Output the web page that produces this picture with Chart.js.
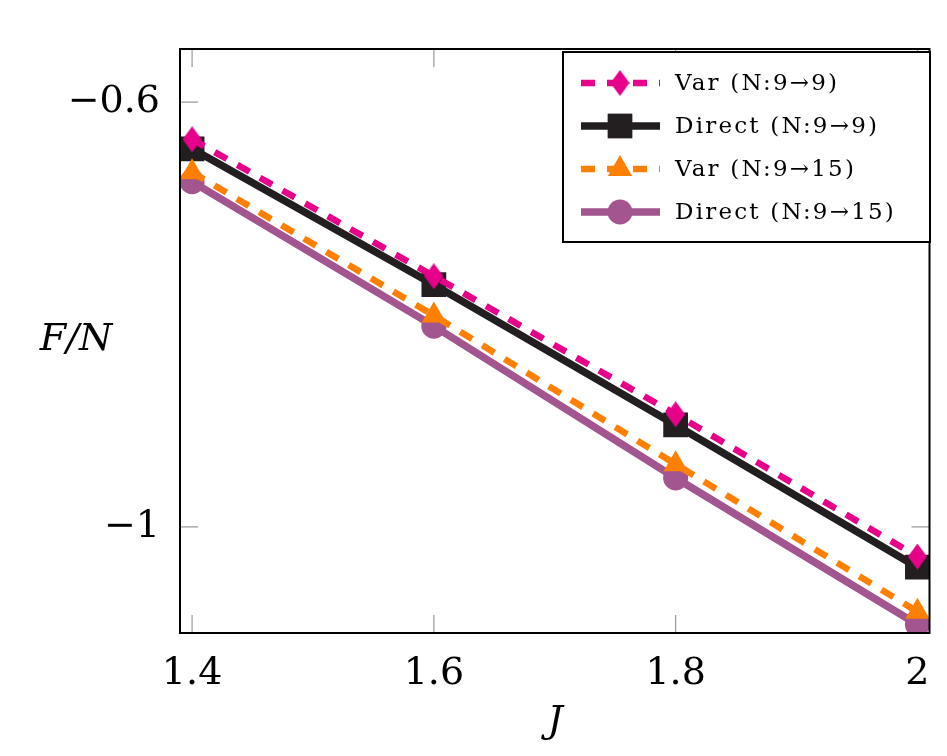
<!DOCTYPE html>
<html>
<head>
<meta charset="utf-8">
<script src="https://cdn.jsdelivr.net/npm/chart.js@4/dist/chart.umd.min.js"></script>
<style>
  html, body { margin: 0; padding: 0; background: #fff; }
  #wrap { width: 947px; height: 756px; position: relative; }
</style>
</head>
<body>
<div id="wrap"><canvas id="chart"></canvas></div>
<script>
// values
const jValues = [1.4, 1.6, 1.8, 2.0];
const varN9 = [-0.635, -0.764, -0.894, -1.028];
const directN9 = [-0.644, -0.772, -0.904, -1.038];
const varN15 = [-0.666, -0.801, -0.941, -1.080];
const directN15 = [-0.675, -0.811, -0.954, -1.092];
const seriesLabels = ['Var (N:9\u21929)', 'Direct (N:9\u21929)', 'Var (N:9\u219215)', 'Direct (N:9\u219215)'];
const xTicks = [1.4, 1.6, 1.8, 2];
const xTickLabels = ['1.4', '1.6', '1.8', '2'];
const yTicks = [-1, -0.6];
const yTickLabels = ['\u22121', '\u22120.6'];

const PINK = '#e6008a';
const BLACK = '#231f20';
const ORANGE = '#ff8000';
const PURPLE = '#a2558e';
const SERIF = "'DejaVu Serif', serif";

// pgfplots-like diamond (narrower than tall)
function makeDiamond(color) {
  const c = document.createElement('canvas');
  c.width = 19; c.height = 26;
  const g = c.getContext('2d');
  g.fillStyle = color;
  g.beginPath();
  g.moveTo(9.5, 0);
  g.lineTo(19, 13);
  g.lineTo(9.5, 26);
  g.lineTo(0, 13);
  g.closePath();
  g.fill();
  return c;
}

function pts(ys) {
  return jValues.map((x, i) => ({ x, y: ys[i] }));
}

function series(label, ys, color, style, radius, dashed, order) {
  return {
    label,
    data: pts(ys),
    borderColor: color,
    backgroundColor: color,
    borderWidth: dashed ? 6.5 : 7.5,
    borderDash: dashed ? [14, 12] : [],
    pointStyle: style,
    pointRadius: radius,
    pointBackgroundColor: color,
    pointBorderColor: color,
    pointBorderWidth: 0,
    tension: 0,
    clip: 0,
    order
  };
}

const datasets = [
  series(seriesLabels[0], varN9, PINK, makeDiamond(PINK), 13, true, 0),
  series(seriesLabels[1], directN9, BLACK, 'rect', 17.5, false, 2),
  series(seriesLabels[2], varN15, ORANGE, 'triangle', 14, true, 1),
  series(seriesLabels[3], directN15, PURPLE, 'circle', 12.5, false, 3)
];

// frame, inner ticks, axis titles and legend box
const decorations = {
  id: 'decorations',
  beforeDatasetsDraw(chart) {
    const { ctx, chartArea: a, scales } = chart;
    ctx.save();
    ctx.strokeStyle = '#999';
    ctx.lineWidth = 1.2;
    ctx.beginPath();
    xTicks.forEach(v => {
      const px = scales.x.getPixelForValue(v);
      ctx.moveTo(px, a.bottom); ctx.lineTo(px, a.bottom - 18);
      ctx.moveTo(px, a.top); ctx.lineTo(px, a.top + 18);
    });
    yTicks.forEach(v => {
      const py = scales.y.getPixelForValue(v);
      ctx.moveTo(a.left, py); ctx.lineTo(a.left + 18, py);
      ctx.moveTo(a.right, py); ctx.lineTo(a.right - 18, py);
    });
    ctx.stroke();
    ctx.restore();
  },
  afterDatasetsDraw(chart) {
    const { ctx, chartArea: a } = chart;
    ctx.save();
    ctx.strokeStyle = '#000';
    ctx.lineWidth = 2;
    ctx.strokeRect(a.left, a.top, a.right - a.left, a.bottom - a.top);

    // axis titles
    ctx.fillStyle = '#000';
    ctx.font = `italic 38px ${SERIF}`;
    ctx.textAlign = 'center';
    ctx.textBaseline = 'middle';
    ctx.fillText('F/N', 76, 340);
    ctx.fillText('J', 555, 722);

    // legend
    const box = { left: 563, top: 52, right: 930, bottom: 242 };
    ctx.fillStyle = '#fff';
    ctx.fillRect(box.left, box.top, box.right - box.left, box.bottom - box.top);
    ctx.strokeStyle = '#000';
    ctx.lineWidth = 2;
    ctx.strokeRect(box.left, box.top, box.right - box.left, box.bottom - box.top);

    chart.data.datasets.forEach((ds, i) => {
      const y = box.top + 31 + i * 43;
      ctx.save();
      ctx.strokeStyle = ds.borderColor;
      ctx.lineWidth = ds.borderWidth;
      ctx.setLineDash(ds.borderDash);
      ctx.beginPath();
      ctx.moveTo(box.left + 18, y);
      ctx.lineTo(box.left + 97, y);
      ctx.stroke();
      ctx.setLineDash([]);
      ctx.fillStyle = ds.pointBackgroundColor;
      Chart.helpers.drawPoint(ctx, {
        pointStyle: ds.pointStyle,
        radius: ds.pointRadius,
        rotation: 0,
        borderWidth: 0
      }, box.left + 57, y);
      ctx.restore();

      ctx.fillStyle = '#000';
      ctx.font = `23px ${SERIF}`;
      ctx.letterSpacing = '2.2px';
      ctx.textAlign = 'left';
      ctx.textBaseline = 'middle';
      ctx.fillText(ds.label, box.left + 112, y + 1);
    });
    ctx.restore();
  }
};

Chart.defaults.font.family = SERIF;
Chart.defaults.color = '#000';

new Chart(document.getElementById('chart'), {
  type: 'line',
  data: { datasets },
  options: {
    responsive: true,
    maintainAspectRatio: false,
    animation: false,
    layout: { padding: { top: 49, right: 14, left: 0, bottom: 0 } },
    plugins: {
      legend: { display: false },
      tooltip: { enabled: false }
    },
    scales: {
      x: {
        type: 'linear',
        min: 1.39,
        max: 2.01,
        grid: { display: false },
        border: { display: false },
        afterBuildTicks: s => { s.ticks = xTicks.map(v => ({ value: v })); },
        afterFit: s => { s.height = 123; },
        ticks: {
          font: { size: 38 },
          padding: 10,
          maxRotation: 0,
          callback: (v) => xTickLabels[xTicks.indexOf(v)]
        }
      },
      y: {
        type: 'linear',
        min: -1.1,
        max: -0.55,
        grid: { display: false },
        border: { display: false },
        afterBuildTicks: s => { s.ticks = yTicks.map(v => ({ value: v })); },
        afterFit: s => { s.width = 180; },
        ticks: {
          font: { size: 38 },
          padding: 12,
          callback: (v) => yTickLabels[yTicks.indexOf(v)]
        }
      }
    }
  },
  plugins: [decorations]
});
</script>
</body>
</html>
